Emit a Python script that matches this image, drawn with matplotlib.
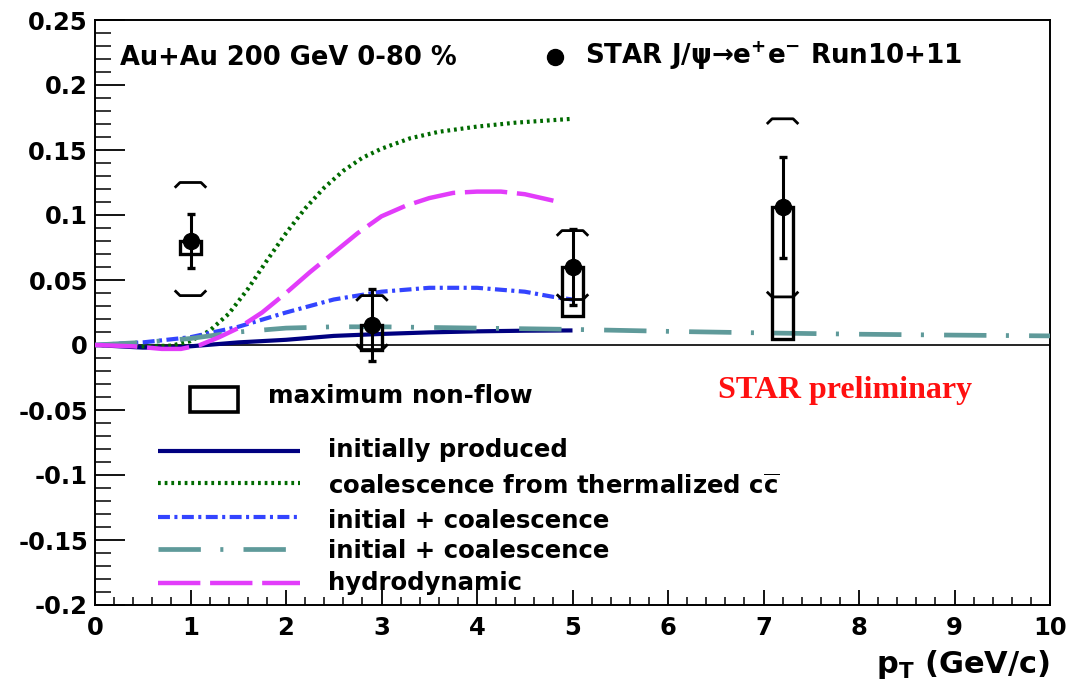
import matplotlib
matplotlib.use("Agg")
import matplotlib.pyplot as plt
from matplotlib.patches import Rectangle
from matplotlib.ticker import MultipleLocator, FixedLocator, FixedFormatter

plt.rcParams['font.family'] = ['DejaVu Sans']
plt.rcParams['font.weight'] = 'bold'
plt.rcParams['mathtext.fontset'] = 'dejavusans'
plt.rcParams['lines.scale_dashes'] = False

# ---------------- data ----------------
# STAR J/psi v2 points
pt = [1.0, 2.9, 5.0, 7.2]
v2 = [0.080, 0.0155, 0.060, 0.106]
stat_err = [0.021, 0.0275, 0.029, 0.039]
sys_up = [0.045, 0.0225, 0.028, 0.068]
sys_dn = [0.042, 0.019, 0.025, 0.069]
nonflow = [0.010, 0.019, 0.038, 0.101]

# model curves
init_x = [0, 0.5, 0.8, 1.0, 1.5, 2.0, 2.5, 3.0, 3.5, 4.0, 4.5, 5.0]
init_y = [0, -0.002, -0.002, -0.001, 0.002, 0.004, 0.007, 0.0085, 0.0097, 0.0105, 0.011, 0.0112]

coal_x = [0, 0.5, 0.8, 1.0, 1.2, 1.4, 1.6, 1.8, 2.0, 2.2, 2.4, 2.6, 2.8, 3.0, 3.3, 3.6, 4.0, 4.4, 4.8, 5.0]
coal_y = [0, -0.001, -0.0005, 0.003, 0.011, 0.024, 0.043, 0.065, 0.086, 0.105, 0.121, 0.134,
          0.144, 0.151, 0.159, 0.164, 0.168, 0.171, 0.173, 0.174]

ic1_x = [0, 0.5, 1.0, 1.5, 2.0, 2.5, 3.0, 3.5, 4.0, 4.5, 4.8, 5.0]
ic1_y = [0, 0.002, 0.006, 0.014, 0.025, 0.035, 0.041, 0.044, 0.044, 0.041, 0.037, 0.035]

ic2_x = [0, 0.5, 1.0, 1.5, 2.0, 2.5, 3.0, 4.0, 5.0, 6.0, 7.0, 8.0, 9.0, 10.0]
ic2_y = [0, 0.002, 0.005, 0.010, 0.013, 0.014, 0.014, 0.013, 0.012, 0.0105, 0.0093, 0.0083, 0.0076, 0.007]

hydro_x = [0, 0.4, 0.7, 0.9, 1.1, 1.3, 1.5, 1.75, 2.0, 2.25, 2.5, 2.75, 3.0, 3.25, 3.5, 3.75, 4.0, 4.25, 4.5, 4.8]
hydro_y = [0, -0.001, -0.003, -0.003, 0.0, 0.006, 0.013, 0.025, 0.040, 0.056, 0.071, 0.086, 0.099,
           0.107, 0.113, 0.117, 0.118, 0.118, 0.116, 0.111]

model_labels = ["initially produced",
                r"coalescence from thermalized c$\overline{\mathbf{c}}$",
                "initial + coalescence",
                "initial + coalescence",
                "hydrodynamic"]

x_ticks = [0, 1, 2, 3, 4, 5, 6, 7, 8, 9, 10]
x_ticklabels = ["0", "1", "2", "3", "4", "5", "6", "7", "8", "9", "10"]
y_ticks = [-0.2, -0.15, -0.1, -0.05, 0, 0.05, 0.1, 0.15, 0.2, 0.25]
y_ticklabels = ["-0.2", "-0.15", "-0.1", "-0.05", "0", "0.05", "0.1", "0.15", "0.2", "0.25"]

# ---------------- styles ----------------
styles = [
    dict(color='#000080', lw=3.0, ls='-'),
    dict(color='#006a00', lw=3.0, ls=(0, (2.0, 2.8))),
    dict(color='#3344ff', lw=3.0, ls=(0, (8.6, 3.2, 2.2, 3.2))),
    dict(color='#5f9a9a', lw=3.4, ls=(0, (30.5, 14, 2.2, 14.5))),
    dict(color='#e23cfa', lw=3.2, ls=(0, (30.5, 7))),
]
curves = [(init_x, init_y), (coal_x, coal_y), (ic1_x, ic1_y), (ic2_x, ic2_y), (hydro_x, hydro_y)]

fig = plt.figure(figsize=(10.76, 6.96), dpi=100)
ax = fig.add_axes([95 / 1076, 91 / 696, 955 / 1076, 585 / 696])
ax.set_xlim(0, 10)
ax.set_ylim(-0.2, 0.25)

ax.axhline(0, color='black', lw=1.2, zorder=1)

for (xs, ys), st in zip(curves, styles):
    ax.plot(xs, ys, zorder=3, solid_capstyle='butt', dash_capstyle='butt', **st)

# data points
bw = 0.11
for p, v, nf in zip(pt, v2, nonflow):
    ax.add_patch(Rectangle((p - bw, v - nf), 2 * bw, nf, fill=False, ec='black', lw=2.4, zorder=5))
for p, v, su, sd in zip(pt, v2, sys_up, sys_dn):
    hi = v + su
    lo = v - sd
    ax.plot([p - 0.165, p - 0.11, p + 0.11, p + 0.165], [hi - 0.004, hi, hi, hi - 0.004],
            color='black', lw=2.0, zorder=5, solid_capstyle='butt')
    ax.plot([p - 0.165, p - 0.11, p + 0.11, p + 0.165], [lo + 0.004, lo, lo, lo + 0.004],
            color='black', lw=2.0, zorder=5, solid_capstyle='butt')
ax.errorbar(pt, v2, yerr=stat_err, fmt='o', color='black', ms=11.5, elinewidth=2.2,
            capsize=3, capthick=2.4, zorder=6)

# axes styling
for s in ax.spines.values():
    s.set_linewidth(1.4)
ax.xaxis.set_major_locator(FixedLocator(x_ticks))
ax.xaxis.set_major_formatter(FixedFormatter(x_ticklabels))
ax.xaxis.set_minor_locator(MultipleLocator(0.2))
ax.yaxis.set_major_locator(FixedLocator(y_ticks))
ax.yaxis.set_major_formatter(FixedFormatter(y_ticklabels))
ax.yaxis.set_minor_locator(MultipleLocator(0.01))
ax.tick_params(axis='y', which='major', direction='in', length=21.6, width=1.3,
               left=True, right=False, labelsize=17.5, pad=5)
ax.tick_params(axis='y', which='minor', direction='in', length=11.5, width=1.1,
               left=True, right=False)
ax.tick_params(axis='x', which='major', direction='in', length=10.8, width=1.3,
               bottom=True, top=False, labelsize=17.5, pad=8)
ax.tick_params(axis='x', which='minor', direction='in', length=5.8, width=1.1,
               bottom=True, top=False)


def pa(X, Y):
    return ((X - 95) / 955, (605 - Y) / 585)


# model legend
line_rows = [451, 483, 517, 549, 583]
text_rows = [457, 495, 528, 558, 590]
for st, ly, ty, lab in zip(styles, line_rows, text_rows, model_labels):
    x0, y0 = pa(158, ly)
    x1, _ = pa(300, ly)
    ax.plot([x0, x1], [y0, y0], transform=ax.transAxes, clip_on=False,
            solid_capstyle='butt', dash_capstyle='butt', **st)
    tx, tyy = pa(328, ty)
    ax.text(tx, tyy, lab, transform=ax.transAxes, fontsize=17.6, fontweight='bold',
            va='baseline', ha='left')

# max non-flow legend
bx0, by0 = pa(190, 412)
bx1, by1 = pa(238, 387)
ax.add_patch(Rectangle((bx0, by0), bx1 - bx0, by1 - by0, transform=ax.transAxes,
                       fill=False, ec='black', lw=2.6, clip_on=False))
tx, tyy = pa(268, 403)
ax.text(tx, tyy, "maximum non-flow", transform=ax.transAxes, fontsize=17.7,
        fontweight='bold', va='baseline')

# top texts
tx, tyy = pa(120, 65)
ax.text(tx, tyy, "Au+Au 200 GeV 0-80 %", transform=ax.transAxes, fontsize=18.5,
        fontweight='bold', va='baseline')
mx, my = pa(555, 57)
ax.plot([mx], [my], 'o', color='black', ms=11.5, transform=ax.transAxes, clip_on=False)
tx, tyy = pa(585, 64)
ax.text(tx, tyy, r"STAR J/ψ→e$^{\mathbf{+}}$e$^{\mathbf{-}}$ Run10+11", transform=ax.transAxes,
        fontsize=18.8, fontweight='bold', va='baseline')

tx, tyy = pa(718, 398)
ax.text(tx, tyy, "STAR preliminary", transform=ax.transAxes, fontsize=23,
        family='Liberation Serif', fontweight='bold', color='#ff1010', va='baseline')

# x label
tx, tyy = pa(1050, 673)
ax.text(tx, tyy, r"p$_{\mathbf{T}}$ (GeV/c)", transform=ax.transAxes, fontsize=22,
        fontweight='bold', ha='right', va='baseline')

fig.savefig("out.png", dpi=100)
